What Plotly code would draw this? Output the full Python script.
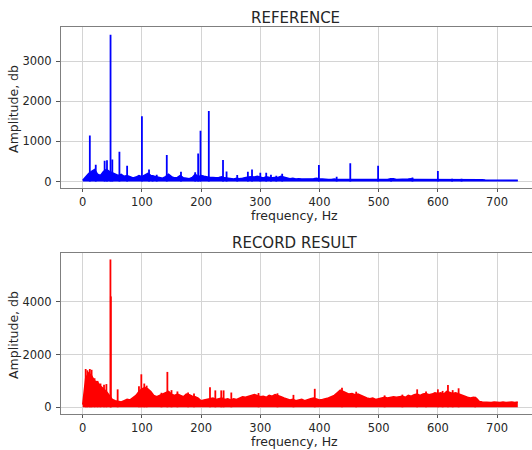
import plotly.graph_objects as go

# ---------------- data ----------------
env_step = 5  # Hz between envelope samples
ref_envelope = [30, 120, 200, 250, 300, 180, 150, 250, 300, 250, 220, 200, 150, 180, 130, 150,
                120, 90, 110, 150, 120, 150, 200, 150, 130, 110, 90, 80, 120, 180, 120, 90,
                100, 150, 90, 80, 70, 100, 180, 120, 150, 130, 110, 100, 100, 90, 100, 120,
                90, 80, 70, 60, 80, 70, 80, 100, 110, 120, 110, 130, 110, 90, 120, 100,
                90, 100, 100, 130, 100, 90, 70, 80, 60, 70, 60, 60, 60, 70, 70, 80,
                60, 60, 50, 50, 50, 60, 50, 50, 50, 50, 60, 50, 50, 60, 60, 50,
                50, 50, 50, 50, 60, 50, 50, 50, 70, 70, 50, 50, 50, 50, 60, 70,
                50, 50, 50, 50, 50, 50, 50, 50, 60, 50, 50, 50, 50, 60, 50, 50,
                60, 50, 50, 50, 45, 45, 45, 45, 40, 40, 40, 40, 40, 40, 40, 40,
                35, 35, 35, 30]
ref_peak_freq = [12, 22, 37, 41, 47, 50, 62, 75, 100, 112, 118, 125, 142, 166, 190, 195,
                 199, 213, 237, 243, 261, 279, 286, 300, 310, 318, 327, 337, 399, 429,
                 452, 499, 521, 557, 600, 624, 640]
ref_peak_amp = [1150, 420, 520, 530, 3665, 550, 740, 390, 1630, 300, 160, 170, 660, 240, 230, 700,
                1270, 1760, 535, 250, 160, 245, 300, 220, 215, 165, 140, 190, 410, 120,
                455, 395, 85, 100, 262, 70, 70]

rec_envelope = [100, 1100, 1300, 1200, 1000, 950, 800, 700, 600, 450, 300, 250, 220, 200, 250, 300,
                280, 350, 450, 600, 700, 750, 700, 600, 450, 400, 450, 500, 550, 600, 500, 450,
                500, 450, 400, 500, 480, 420, 400, 350, 250, 280, 300, 320, 350, 300, 320, 350,
                300, 320, 280, 320, 300, 350, 400, 380, 420, 450, 480, 450, 400, 420, 380, 450,
                420, 480, 450, 400, 350, 300, 280, 300, 250, 280, 300, 250, 300, 320, 350, 300,
                280, 300, 320, 350, 400, 450, 550, 650, 600, 550, 500, 520, 480, 500, 450, 380,
                350, 320, 350, 300, 320, 350, 380, 350, 380, 400, 380, 400, 420, 380, 450, 420,
                480, 500, 450, 500, 520, 480, 500, 550, 520, 550, 500, 600, 550, 520, 550, 500,
                480, 420, 380, 350, 380, 350, 220, 200, 190, 200, 180, 200, 190, 180, 200, 180,
                190, 200, 180, 200]
rec_peak_freq = [5, 8, 12, 15, 20, 25, 30, 36, 40, 46.8, 47.5, 59, 95, 99, 104, 108,
                 133, 143, 150, 160, 178, 188, 215, 224, 234, 238, 251, 297, 329, 356,
                 392, 438, 462, 510, 540, 565, 580, 600, 608, 617, 625, 635, 663]
rec_peak_amp = [1450, 1400, 1450, 1420, 1100, 1000, 900, 850, 880, 5600, 4200, 680, 800, 1250, 900, 820,
                550, 1340, 650, 600, 560, 520, 760, 640, 640, 640, 560, 540, 530, 470,
                700, 740, 590, 450, 480, 680, 600, 680, 620, 840, 650, 720, 400]

x_ticks = [0, 100, 200, 300, 400, 500, 600, 700]
ref_y_ticks = [0, 1000, 2000, 3000]
rec_y_ticks = [0, 2000, 4000]

titles = ["REFERENCE", "RECORD RESULT"]
x_label = "frequency, Hz"
y_label = "Amplitude, db"

# ---------------- figure ----------------
def env_freqs(env):
    return [i * env_step for i in range(len(env))]

def stems(freqs, amps):
    xs, ys = [], []
    for f, a in zip(freqs, amps):
        xs += [f, f, None]
        ys += [0, a, None]
    return xs, ys

fig = go.Figure()

series = [
    (ref_envelope, ref_peak_freq, ref_peak_amp, "#0000ff", "x", "y"),
    (rec_envelope, rec_peak_freq, rec_peak_amp, "#ff0000", "x2", "y2"),
]
for env, pf, pa, col, xa, ya in series:
    fig.add_trace(go.Scatter(x=env_freqs(env), y=env, mode="lines", fill="tozeroy",
                             fillcolor=col, line=dict(color=col, width=1.5),
                             xaxis=xa, yaxis=ya, hoverinfo="skip", showlegend=False))
    sx, sy = stems(pf, pa)
    fig.add_trace(go.Scatter(x=sx, y=sy, mode="lines", line=dict(color=col, width=1.8),
                             xaxis=xa, yaxis=ya, hoverinfo="skip", showlegend=False,
                             connectgaps=False))

font_family = "DejaVu Sans"
text_col = "#262626"
tick_font = dict(family=font_family, size=11.5, color=text_col)

xaxis_common = dict(range=[-36.7, 759], tickvals=x_ticks, ticktext=[str(v) for v in x_ticks],
                    showgrid=True, gridcolor="#d4d4d4", gridwidth=1.2, zeroline=False,
                    showline=True, mirror=True, linecolor="#7f7f7f", linewidth=1,
                    ticks="outside", ticklen=3, tickcolor="#555555", tickfont=tick_font,
                    domain=[0, 1])
yaxis_common = dict(showgrid=True, gridcolor="#d4d4d4", gridwidth=1.2, zeroline=False,
                    showline=True, mirror=False, linecolor="#7f7f7f", linewidth=1,
                    ticks="outside", ticklen=4, tickcolor="#555555", tickfont=tick_font,
                    ticklabelstandoff=2)

fig.update_layout(
    width=532, height=450,
    margin=dict(l=61, r=0, t=0, b=0),
    paper_bgcolor="white", plot_bgcolor="white",
    xaxis=dict(**xaxis_common, anchor="y"),
    yaxis=dict(**yaxis_common, domain=[0.5816, 0.9393], range=[-170, 3850],
               tickvals=ref_y_ticks, ticktext=[str(v) for v in ref_y_ticks], anchor="x"),
    xaxis2=dict(**xaxis_common, anchor="y2"),
    yaxis2=dict(**yaxis_common, domain=[0.08, 0.4371], range=[-254, 5833],
                tickvals=rec_y_ticks, ticktext=[str(v) for v in rec_y_ticks], anchor="x2"),
)

ann_font = dict(family=font_family, size=12.5, color=text_col)
title_font = dict(family=font_family, size=15, color=text_col)
fig.add_annotation(text=titles[0], x=0.4989, y=0.96, xref="paper", yref="paper",
                   showarrow=False, font=title_font, xanchor="center", yanchor="middle")
fig.add_annotation(text=titles[1], x=0.4967, y=0.46, xref="paper", yref="paper",
                   showarrow=False, font=title_font, xanchor="center", yanchor="middle")
fig.add_annotation(text=x_label, x=0.4947, y=1 - 207.0 / 450, xref="paper", yref="paper",
                   showarrow=False, font=ann_font, xanchor="center", yanchor="top", borderpad=0)
fig.add_annotation(text=x_label, x=0.4947, y=1 - 433.0 / 450, xref="paper", yref="paper",
                   showarrow=False, font=ann_font, xanchor="center", yanchor="top", borderpad=0)
fig.add_annotation(text=y_label, x=-0.0998, y=0.758, xref="paper", yref="paper",
                   showarrow=False, font=ann_font, textangle=-90, xanchor="center", yanchor="middle")
fig.add_annotation(text=y_label, x=-0.0998, y=0.2556, xref="paper", yref="paper",
                   showarrow=False, font=ann_font, textangle=-90, xanchor="center", yanchor="middle")

fig.write_html("out.html", config={"displayModeBar": False},
               post_script="document.body.style.margin='0';document.body.style.overflow='hidden';")
